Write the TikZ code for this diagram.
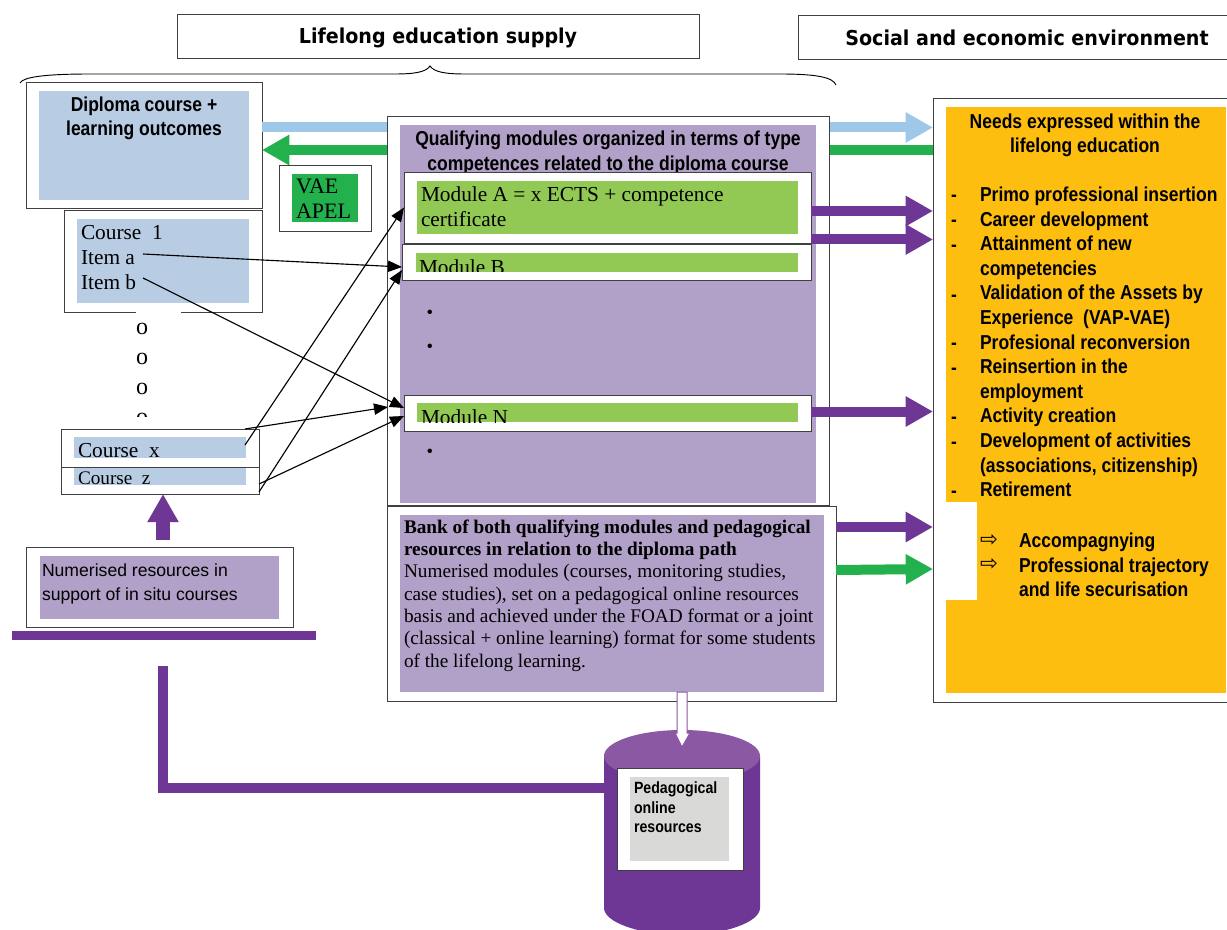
\documentclass[tikz,border=0pt]{standalone}
\usepackage{fontspec}
\usetikzlibrary{arrows.meta,calc}
\setmainfont{Liberation Serif}
\setsansfont{Liberation Sans}
\newfontfamily\nbf[FakeStretch=0.87]{Liberation Sans Bold}
\newfontfamily\hbf[FakeStretch=0.93]{DejaVu Sans Bold}
\newfontfamily\djsans{DejaVu Sans}
\definecolor{cblue}{HTML}{B8CCE4}
\definecolor{cpurple}{HTML}{B1A0C7}
\definecolor{cgreen}{HTML}{92C955}
\definecolor{cdgreen}{HTML}{22B14C}
\definecolor{corange}{HTML}{FDBE10}
\definecolor{cdeep}{HTML}{6F3795}
\definecolor{ctop}{HTML}{8B58A3}
\definecolor{clight}{HTML}{9DC8EA}
\definecolor{cgray}{HTML}{D9D9D7}
\definecolor{cedge}{HTML}{404040}
\newcommand{\rbox}[6]{%
  \pgfmathsetmacro\myw{(#5-#3)*0.75}\pgfmathsetmacro\myh{(#6-#4)*0.75}%
  \node[#1,anchor=north west,inner sep=0pt,outer sep=0pt,minimum width=\myw pt,minimum height=\myh pt] (#2) at (#3,#4) {};}
\newcommand{\fsz}[2]{\fontsize{#1}{#2}\selectfont}
\begin{document}
\begin{tikzpicture}[x=0.75pt,y=-0.75pt,
  frame/.style={draw=cedge,fill=white,line width=0.7pt},
  panel/.style={fill=#1,draw=none},
  txtl/.style={anchor=north west,inner sep=0pt,outer sep=0pt,align=left},
  txtc/.style={anchor=north,inner sep=0pt,outer sep=0pt,align=center},
  fat/.style={draw=#1,line width=7.5pt,-{Triangle[length=20.5pt,width=21.5pt,fill=#1]}},
  thinarrow/.style={draw=black,line width=0.85pt,-{Triangle[length=10.5pt,width=8.5pt]}},
  narrow/.style={font=\nbf\fsz{15.1}{18.45}},
  serif/.style={font=\rmfamily\fsz{16}{18.75}}]
\useasboundingbox (0,0) rectangle (1227,930);
\fill[white] (0,0) rectangle (1227,930);

% headers
\rbox{frame}{hsup}{177}{14}{699}{58}
\rbox{frame}{hsoc}{798}{15}{1240}{59}
\node[font=\hbf\fsz{15.4}{18},inner sep=0pt] (hsupt) at (438,38) {Lifelong education supply};
\node[font=\hbf\fsz{15.4}{18},inner sep=0pt] (hsoct) at (1027,38) {Social and economic environment};

% brace
\draw[black,line width=0.7pt] (20,83) .. controls (23,77) and (45,74) .. (90,74) -- (395,74) .. controls (415,74) and (426,72) .. (430,66) .. controls (434,72) and (445,74) .. (465,74) -- (780,74) .. controls (815,74) and (833,77) .. (836,85);

% boxes needed by the back arrows
\rbox{frame}{diploma}{26}{82}{262}{208}
\rbox{panel=cblue}{diplomaf}{39}{91}{249}{200}
\node[txtc,narrow] (diplomat) at (144,96.5) {Diploma course +\\learning outcomes};

\rbox{frame}{needs}{933}{98}{1240}{702}
\rbox{panel=corange}{needsf}{946}{107}{1226}{693}

% back arrows
\draw[fat=clight] (diploma.east |- 0,127.5) -- (needs.west |- 0,127.5);
\draw[draw=cdgreen,line width=7.5pt] (needs.west |- 0,150) -- (840,150);
\draw[fat=cdgreen] (840,150) -- (diploma.east |- 0,150);

% VAE
\rbox{frame}{vae}{279}{165}{371}{231}
\rbox{panel=cdgreen}{vaef}{292}{174}{358}{222}
\node[txtl,font=\rmfamily\fsz{16.5}{18.75}] (vaet) at (296,179) {VAE\\APEL};

% course 1
\rbox{frame}{c1}{64}{210}{262}{312}
\rbox{panel=cblue}{c1f}{77}{219}{249}{303}
\node[txtl,serif] (c1t) at (81,225) {Course\ \ 1\\Item a\\Item b};
\fill[white] (136,309) rectangle (181,315);
\begin{scope}
  \clip (130,315) rectangle (155,416);
  \node[txtl,font=\rmfamily\fsz{18}{22.5}] (dots) at (136,323.5) {o\\o\\o\\o};
\end{scope}

% course x, z
\rbox{frame}{cz}{61}{467}{259}{494}
\rbox{panel=cblue}{czf}{74}{468}{246}{485}
\node[txtl,font=\rmfamily\fsz{14.4}{15}] (czt) at (78,472) {Course\ \ z};
\rbox{frame}{cx}{61}{429}{259}{467}
\rbox{panel=cblue}{cxf}{74}{437}{246}{458}
\node[txtl,serif] (cxt) at (78,443) {Course\ \ x};

% numerised
\rbox{frame}{num}{26}{547}{293}{627}
\rbox{panel=cpurple}{numf}{40}{556}{279}{619}
\node[txtl,font=\sffamily\fsz{13.2}{18}] (numt) at (42,563.5) {Numerised resources in\\support of in situ courses};
\rbox{panel=cdeep}{bar}{12}{631}{316}{640}

\draw[draw=cdeep,line width=10.5pt,-{Triangle[length=21pt,width=22pt,fill=cdeep]}] (163,540) -- (cz.south -| 163,0);

% middle
\rbox{frame}{mid}{387}{116}{829}{505}
\rbox{panel=cpurple}{midf}{400}{125}{816}{503}
\node[txtc,narrow] (midt) at (608,131) {Qualifying modules organized in terms of type\\competences related to the diploma course};

\rbox{frame}{modA}{404}{172}{811}{243}
\rbox{panel=cgreen}{modAf}{417}{181}{798}{234}
\node[txtl,serif] (modAt) at (421,186.5) {Module A = x ECTS + competence\\certificate};

\rbox{frame}{modB}{402}{244}{811}{280}
\rbox{panel=cgreen}{modBf}{416}{253}{798}{272}
\begin{scope}
  \clip (416,253) rectangle (798,272);
  \node[txtl,serif] (modBt) at (419,259.5) {Module B};
\end{scope}

\rbox{frame}{modN}{404}{395}{811}{431}
\rbox{panel=cgreen}{modNf}{417}{403}{798}{422}
\begin{scope}
  \clip (417,403) rectangle (798,422);
  \node[txtl,serif] (modNt) at (421,409.5) {Module N};
\end{scope}

\node[inner sep=0pt] (b1) at (430,314) {\rmfamily\fsz{14}{16}•};
\node[inner sep=0pt] (b2) at (430,348) {\rmfamily\fsz{14}{16}•};
\node[inner sep=0pt] (b3) at (430,453) {\rmfamily\fsz{14}{16}•};

% bank
\rbox{frame}{bank}{387}{506}{836}{701}
\rbox{panel=cpurple}{bankf}{400}{515}{824}{692}
\node[txtl,font=\rmfamily\fsz{14.45}{16.75}] (bankt) at (404,519.5) {\textbf{Bank of both qualifying modules and pedagogical}\\\textbf{resources in relation to the diploma path}\\Numerised modules (courses, monitoring studies,\\case studies), set on a pedagogical online resources\\basis and achieved under the FOAD format or a joint\\(classical + online learning) format for some students\\of the lifelong learning.};

% right text
\node[txtc,narrow] (needst) at (1085,113.5) {Needs expressed within the\\lifelong education};
\node[txtl,narrow] (needsl) at (980,187) {Primo professional insertion\\Career development\\Attainment of new\\competencies\\Validation of the Assets by\\Experience\ \ (VAP-VAE)\\Profesional reconversion\\Reinsertion in the\\employment\\Activity creation\\Development of activities\\(associations, citizenship)\\Retirement};
\foreach \yy/\nn in {198/1,223/2,248/3,298/4,346/5,371/6,420/7,445/8,494/9}
  \node[inner sep=0pt,font=\nbf\fsz{15}{15}] (dash\nn) at (954,\yy) {-};
\fill[white] (946,502) rectangle (977,600);
\node[inner sep=0pt,font=\djsans\fsz{16}{16}] (ar1) at (989,541) {⇨};
\node[inner sep=0pt,font=\djsans\fsz{16}{16}] (ar2) at (989,565) {⇨};
\node[txtl,narrow] (afterl) at (1019,533) {Accompagnying\\Professional trajectory\\and life securisation};

% fat arrows to the right
\draw[fat=cdeep] (modA.east |- 0,211) -- (needs.west |- 0,211);
\draw[fat=cdeep] (modA.east |- 0,239.5) -- (needs.west |- 0,239.5);
\draw[fat=cdeep] (modN.east |- 0,411.5) -- (needs.west |- 0,411.5);
\draw[fat=cdeep] (bank.east |- 0,527) -- (needs.west |- 0,527);
\draw[fat=cdgreen] (bank.east |- 0,570) -- (needs.west |- 0,569);

% thin arrows
\draw[thinarrow] (143,254) -- (modB.west |- 0,267);
\draw[thinarrow] (143,278) -- (modN.west |- 0,408);
\draw[thinarrow] (245,445) -- (modA.west);
\draw[thinarrow] (245,429) -- (388,407);
\draw[thinarrow] (259,492) -- (modB.west |- 0,270);
\draw[thinarrow] (259,484) -- (modN.west |- 0,416);

% cylinder
\coordinate (cyltop) at (682,748);
\coordinate (cylside) at (604,788);
\begin{scope}
  \clip (590,700) rectangle (780,930);
  \fill[cdeep] (604,756) -- (604,908) .. controls (604,922) and (639,935) .. (682,935) .. controls (725,935) and (760,922) .. (760,908) -- (760,756) -- cycle;
  \fill[ctop] (682,756) ellipse [x radius=78,y radius=26];
\end{scope}
\draw[draw=cdeep,line width=7.5pt] (163,666) -- (163,788) -- (cylside);
\rbox{frame}{ped}{617}{768}{743}{870}
\rbox{panel=cgray}{pedf}{630}{777}{729}{861}
\node[txtl,font=\nbf\fsz{12.2}{14.6}] (pedt) at (634,782) {Pedagogical\\online\\resources};

% hollow arrow
\draw[draw=ctop,line width=0.75pt,fill=white] (bankf.south -| 677,0) -- (677,733) -- (675,733) -- (682,747) -- (690,733) -- (687,733) -- (687,692) -- cycle;
\end{tikzpicture}
\end{document}
